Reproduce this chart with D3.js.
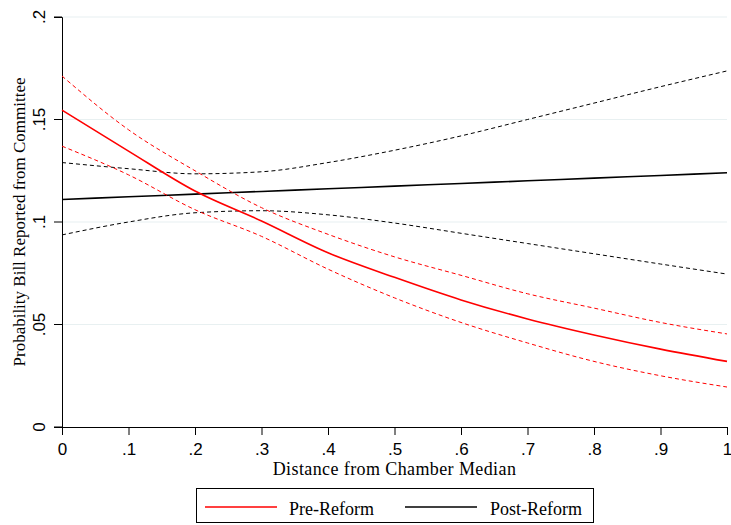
<!DOCTYPE html>
<html lang="en">
<head>
<meta charset="UTF-8">
<title>Probability Bill Reported from Committee</title>
<script src="https://d3js.org/d3.v7.min.js"></script>
<style>
    body { margin: 0; padding: 0; background: #fff; }
    svg { display: block; font-family: "Liberation Serif", "DejaVu Serif", serif; }
    .grid line { stroke: #e8f0f1; stroke-width: 1.2px; }
    .axis path, .axis line { stroke: #000; }
    .axis text { font-size: 17px; fill: #000; }
</style>
</head>
<body>
<div id="chart"></div>
<script>
// distance from chamber median
const xs = [0, .1, .2, .3, .4, .5, .6, .7, .8, .9, 1];
// pre-reform prediction and 95% band
const preMean  = [.1546, .1346, .1151, .1005, .0850, .0730, .0620, .0527, .0449, .0380, .0320];
const preUpper = [.1712, .1450, .1250, .1070, .0940, .0830, .0740, .0650, .0580, .0510, .0454];
const preLower = [.1370, .1230, .1060, .0930, .0770, .0630, .0510, .0410, .0320, .0250, .0195];
// post-reform prediction and 95% band
const postMean  = [.1110, .1123, .1136, .1149, .1162, .1175, .1188, .1201, .1214, .1227, .1240];
const postUpper = [.1290, .1260, .1235, .1245, .1290, .1350, .1420, .1500, .1580, .1660, .1737];
const postLower = [.0937, .1000, .1045, .1055, .1035, .0995, .0945, .0895, .0845, .0795, .0746];

const xTicks = [0, .1, .2, .3, .4, .5, .6, .7, .8, .9, 1];
const yTicks = [0, .05, .1, .15, .2];
const fmt = v => v === 0 ? "0" : v === 1 ? "1" : String(v).replace(/^0/, "");

const width = 731, height = 525;
const svg = d3.select("#chart").append("svg")
    .attr("width", width).attr("height", height);

const x = d3.scaleLinear().domain([0, 1]).range([62, 727]);
const y = d3.scaleLinear().domain([0, .2]).range([427, 17]);

// gridlines
svg.append("g").attr("class", "grid")
    .selectAll("line").data(yTicks.filter(d => d > 0)).enter().append("line")
    .attr("x1", x(0)).attr("x2", x(1))
    .attr("y1", d => y(d)).attr("y2", d => y(d));

// axes
svg.append("g").attr("class", "axis")
    .attr("transform", `translate(0,${y(0)})`)
    .call(d3.axisBottom(x).tickValues(xTicks).tickFormat(fmt).tickSizeOuter(0).tickSize(8).tickPadding(8));

const yAxis = svg.append("g").attr("class", "axis")
    .attr("transform", `translate(${x(0)},0)`)
    .call(d3.axisLeft(y).tickValues(yTicks).tickFormat(fmt).tickSizeOuter(0).tickSize(8));
yAxis.selectAll("text")
    .attr("transform", d => `translate(-17,${y(d)}) rotate(-90)`)
    .attr("x", 0).attr("y", 0).attr("dy", 0)
    .style("text-anchor", "middle");
yAxis.selectAll(".tick").attr("transform", null);
yAxis.selectAll(".tick line").attr("y1", d => y(d)).attr("y2", d => y(d));

// titles
svg.append("text")
    .attr("x", (x(0) + x(1)) / 2).attr("y", 475)
    .attr("text-anchor", "middle").style("font-size", "18px")
    .style("letter-spacing", "0.4px")
    .text("Distance from Chamber Median");
svg.append("text")
    .attr("transform", `translate(25,${(y(0) + y(.2)) / 2}) rotate(-90)`)
    .attr("text-anchor", "middle").style("font-size", "17px")
    .text("Probability Bill Reported from Committee");

// lines
const line = d3.line().x((d, i) => x(xs[i])).y(d => y(d)).curve(d3.curveMonotoneX);
const series = [
    { v: postUpper, color: "#000", w: 1, dash: "4,3" },
    { v: postLower, color: "#000", w: 1, dash: "4,3" },
    { v: postMean,  color: "#000", w: 1.6, dash: null },
    { v: preUpper,  color: "#f00", w: 1, dash: "4,3" },
    { v: preLower,  color: "#f00", w: 1, dash: "4,3" },
    { v: preMean,   color: "#f00", w: 1.6, dash: null }
];
svg.append("g").selectAll("path").data(series).enter().append("path")
    .attr("d", d => line(d.v))
    .attr("fill", "none")
    .attr("stroke", d => d.color)
    .attr("stroke-width", d => d.w)
    .attr("stroke-dasharray", d => d.dash);

// legend
const legend = svg.append("g");
legend.append("rect")
    .attr("x", 196.5).attr("y", 488.5).attr("width", 397).attr("height", 34)
    .attr("fill", "#fff").attr("stroke", "#000").attr("stroke-width", 1);
const items = [
    { label: "Pre-Reform", color: "#f00", x0: 205, tx: 289 },
    { label: "Post-Reform", color: "#000", x0: 405, tx: 490 }
];
items.forEach(it => {
    legend.append("line")
        .attr("x1", it.x0).attr("x2", it.x0 + 72)
        .attr("y1", 507).attr("y2", 507)
        .attr("stroke", it.color).attr("stroke-width", 1.6);
    legend.append("text")
        .attr("x", it.tx).attr("y", 515)
        .style("font-size", "18px")
        .text(it.label);
});
</script>
</body>
</html>
